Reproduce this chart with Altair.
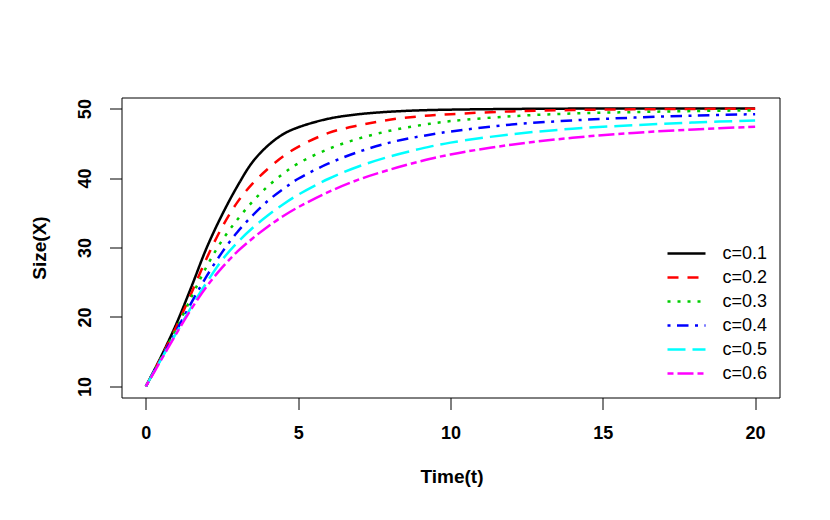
import altair as alt
import pandas as pd

# time points
t = [0, 0.5, 1, 1.5, 2, 2.5, 3, 3.5, 4, 4.5, 5, 6, 7, 8, 9, 10, 12, 14, 16, 18, 20]

c01 = [10, 14.3, 19.0, 24.4, 30.0, 34.7, 38.8, 42.3, 44.65, 46.3, 47.3, 48.55, 49.2, 49.55, 49.75, 49.85, 49.95, 50, 50, 50, 50]
c02 = [10, 14.2, 18.6, 23.5, 28.5, 32.9, 36.5, 39.2, 41.3, 43.1, 44.5, 46.5, 47.6, 48.4, 48.9, 49.2, 49.6, 49.8, 49.9, 49.95, 49.98]
c03 = [10, 14.1, 18.3, 22.9, 27.3, 31.0, 34.0, 36.6, 38.8, 40.6, 42.1, 44.2, 45.7, 46.8, 47.6, 48.2, 48.9, 49.3, 49.5, 49.65, 49.75]
c04 = [10, 14.0, 18.0, 22.1, 25.9, 29.3, 32.2, 34.6, 36.7, 38.4, 39.9, 42.1, 43.8, 45.1, 46.0, 46.7, 47.7, 48.3, 48.7, 49.0, 49.2]
c05 = [10, 13.9, 17.7, 21.5, 25.0, 28.2, 30.7, 32.8, 34.6, 36.2, 37.6, 39.9, 41.7, 43.1, 44.2, 45.1, 46.3, 47.1, 47.6, 48.0, 48.3]
c06 = [10, 13.8, 17.6, 21.2, 24.4, 27.1, 29.4, 31.3, 33.0, 34.5, 35.8, 38.0, 39.8, 41.2, 42.4, 43.4, 44.8, 45.8, 46.5, 47.0, 47.4]

series_names = ["c=0.1", "c=0.2", "c=0.3", "c=0.4", "c=0.5", "c=0.6"]
series_values = [c01, c02, c03, c04, c05, c06]
colors = ["#000000", "#FF0000", "#00CD00", "#0000FF", "#00FFFF", "#FF00FF"]
dashes = [[1, 0], [11, 9], [3, 7], [3, 6.5, 11.5, 6.5], [18, 7], [6, 4, 16, 4]]

x_ticks = [0, 5, 10, 15, 20]
y_ticks = [10, 20, 30, 40, 50]

rows = []
for name, vals in zip(series_names, series_values):
    for tt, v in zip(t, vals):
        rows.append({"t": tt, "X": v, "series": name})
df = pd.DataFrame(rows)
legend_df = pd.DataFrame({"series": series_names})

FONT = "Liberation Sans"

color_enc = alt.Color("series:N", scale=alt.Scale(domain=series_names, range=colors), legend=None)
dash_enc = alt.StrokeDash("series:N", scale=alt.Scale(domain=series_names, range=dashes), legend=None)

lines = alt.Chart(df).mark_line(strokeWidth=2.5, interpolate="catmull-rom", strokeCap="butt").encode(
    x=alt.X("t:Q", scale=alt.Scale(domain=[-0.8, 20.8], nice=False, zero=False),
            axis=alt.Axis(values=x_ticks, title="Time(t)", grid=False, domain=False,
                          tickSize=12, tickColor="black", tickWidth=1,
                          labelFont=FONT, labelFontSize=18, labelFontWeight="bold", labelColor="black",
                          labelPadding=24, labelBaseline="middle",
                          titleFont=FONT, titleFontSize=19, titleFontWeight="bold", titleColor="black",
                          titleX=330, titleY=79, titleBaseline="middle")),
    y=alt.Y("X:Q", scale=alt.Scale(domain=[8.4, 51.6], nice=False, zero=False),
            axis=alt.Axis(values=y_ticks, title="Size(X)", grid=False, domain=False,
                          tickSize=12, tickColor="black", tickWidth=1,
                          labelFont=FONT, labelFontSize=18, labelFontWeight="bold", labelColor="black",
                          labelAngle=270, labelAlign="center", labelBaseline="alphabetic", labelPadding=19,
                          titleFont=FONT, titleFontSize=19, titleFontWeight="bold", titleColor="black",
                          titleX=-82, titleY=150, titleBaseline="middle", titleAlign="center")),
    color=color_enc,
    strokeDash=dash_enc,
)

legend_y = alt.Y("series:N", scale=alt.Scale(type="point", domain=series_names, range=[156, 276], padding=0),
                 axis=None)

legend_lines = alt.Chart(legend_df).mark_rule(strokeWidth=2.5, strokeCap="butt").encode(
    x=alt.value(546), x2=alt.value(584),
    y=legend_y,
    color=color_enc,
    strokeDash=dash_enc,
)

legend_text = alt.Chart(legend_df).mark_text(align="left", baseline="middle", font=FONT,
                                              fontSize=18, color="black").encode(
    x=alt.value(601),
    y=legend_y,
    text="series:N",
)

chart = alt.layer(lines, legend_lines, legend_text).resolve_scale(y="independent").properties(
    width=658, height=300,
    padding={"left": 113.5, "top": 89.5, "right": 42, "bottom": 114},
    autosize=alt.AutoSizeParams(type="none"),
    background="white",
).configure_view(stroke="black", strokeWidth=1)

chart.save("out.html", embed_options={"renderer": "svg", "actions": False})
